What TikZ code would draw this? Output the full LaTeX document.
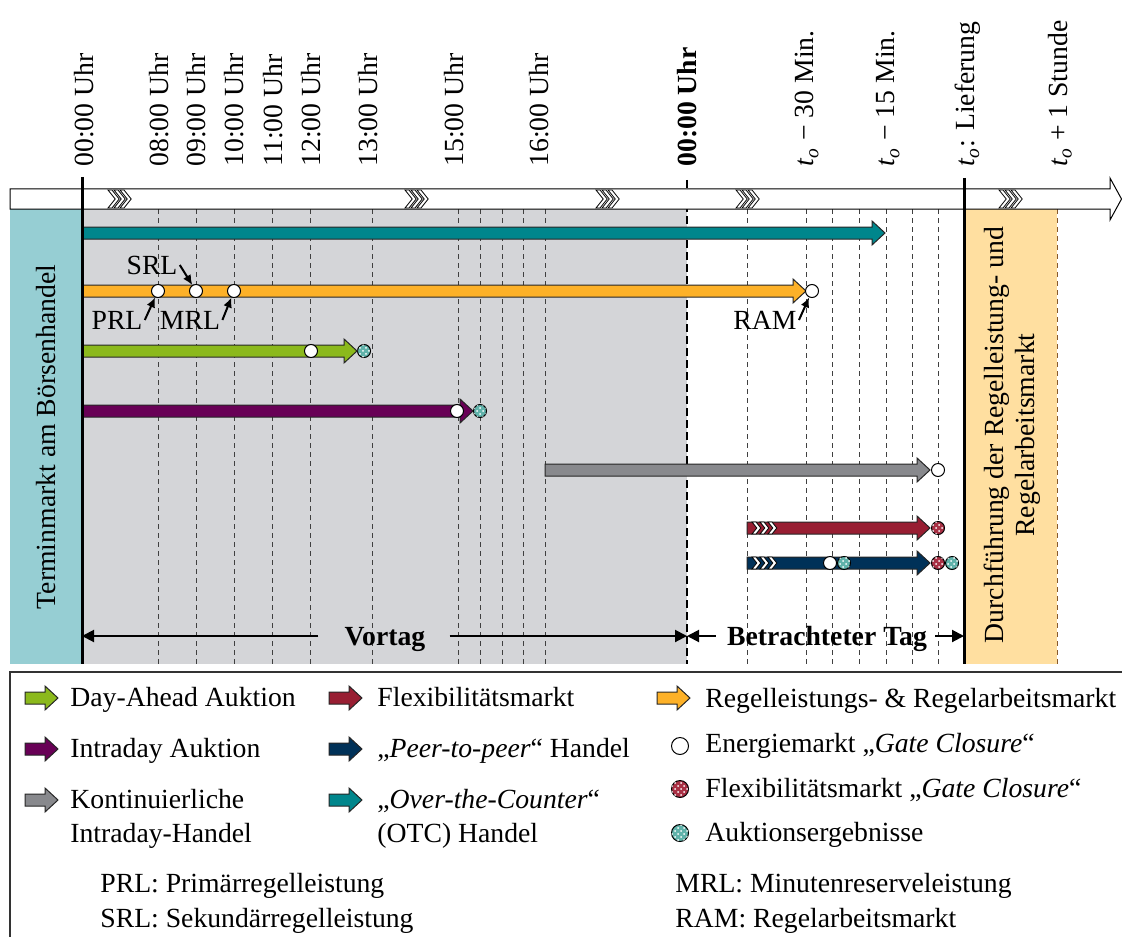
\documentclass[tikz,border=0pt]{standalone}
\usepackage{fontspec}
\setmainfont{Liberation Serif}
\usepackage{xcolor}
\usepackage{tikz}
\usetikzlibrary{arrows.meta,patterns}

\definecolor{termin}{RGB}{150,206,211}
\definecolor{vortag}{RGB}{212,213,216}
\definecolor{liefer}{RGB}{255,223,160}
\definecolor{otc}{RGB}{0,134,140}
\definecolor{regel}{RGB}{253,177,40}
\definecolor{dayahead}{RGB}{139,185,28}
\definecolor{intraday}{RGB}{104,0,86}
\definecolor{kont}{RGB}{136,137,141}
\definecolor{flex}{RGB}{152,30,50}
\definecolor{ptp}{RGB}{0,49,88}
\definecolor{flexdot}{RGB}{168,48,68}
\definecolor{aukdot}{RGB}{96,178,170}

\newcommand{\To}{\textit{t}\textsubscript{\textit{o}}}
\newcommand{\Mkt}[4]{%
  \filldraw[fill=#1,draw=black!85,line width=0.5pt]
    (#2,#4-6) -- (#3-13,#4-6) -- (#3-13,#4-12) -- (#3,#4)
    -- (#3-13,#4+12) -- (#3-13,#4+6) -- (#2,#4+6) -- cycle;}
\newcommand{\Chev}[4]{%
  \filldraw[fill=white,draw=black,line width=0.4pt]
    (#1,#2-#3) -- (#1+#4,#2-#3) -- (#1+#4+#3*0.8,#2) -- (#1+#4,#2+#3)
    -- (#1,#2+#3) -- (#1+#3*0.8,#2) -- cycle;}

\begin{document}
\begin{tikzpicture}[x=0.5pt,y=-0.5pt,
  font=\fontsize{13.85}{16.6}\selectfont,
  gridline/.style={black!75,line width=0.5pt,dash pattern=on 2.5pt off 2pt},
  gate/.style={circle,draw,fill=white,inner sep=0pt,minimum size=6.5pt,line width=0.5pt},
  flexgate/.style={gate,fill=flexdot,postaction={pattern=crosshatch dots,pattern color=white}},
  aukgate/.style={gate,fill=aukdot,postaction={pattern=crosshatch dots,pattern color=white}},
  lblarrow/.style={-{Latex[length=5pt,width=4.5pt]},line width=1pt},
  dayspan/.style={-{Triangle[length=6pt,width=6pt]},line width=1pt},
  toplabel/.style={rotate=90,anchor=west,inner sep=0pt},
  txt/.style={anchor=base west,inner sep=0pt}]
  \useasboundingbox (0,0) rectangle (1122,936);
  \fill[termin] (10,209) rectangle (82,664);
  \fill[vortag] (82,209) rectangle (687,664);
  \fill[liefer] (964,209) rectangle (1057,664);
  \foreach \x in {158,196,234,272,310,372,458,480,502,523,545,747,806,832,859,886,912,938}
    \draw[gridline] (\x,209) -- (\x,664);
  \draw[gridline,draw=brown!70!black] (1057,209) -- (1057,664);
  \draw[line width=1pt,dash pattern=on 4pt off 2pt] (687,180) -- (687,664);
  % time axis
  \filldraw[fill=white,draw=black,line width=0.5pt] (10,189) -- (1110,189) -- (1110,178)
    -- (1121.5,199) -- (1110,220) -- (1110,209) -- (10,209) -- cycle;
  \foreach \c in {108,405,596,736,999}
    \foreach \k in {0,6,12}
      \Chev{\c+\k}{199}{9}{4};
  \foreach \x/\t [count=\i] in {84/00:00,159/08:00,196/09:00,234/10:00,273/11:00,311/12:00,368/13:00,454/15:00,539/16:00}
    \node[toplabel] (h\i) at (\x,167) {\t\ Uhr};
  \node[toplabel] (h0) at (687,167) {\bfseries 00:00 Uhr};
  \node[toplabel] (m30) at (807,167) {\To\ − 30 Min.};
  \node[toplabel] (m15) at (888,167) {\To\ − 15 Min.};
  \node[toplabel] (t0) at (968,167) {\To: Lieferung};
  \node[toplabel] (p1h) at (1060,167) {\To\ + 1 Stunde};
  \node[rotate=90] (termin) at (46,437) {Terminmarkt am Börsenhandel};
  \node[rotate=90,align=center,font=\fontsize{13.85}{15.5}\selectfont] (durch) at (1012,435)
    {Durchführung der Regelleistung- und\\Regelarbeitsmarkt};
  % markets
  \Mkt{otc}{82}{885}{233}
  \Mkt{regel}{82}{806}{291}
  \Mkt{dayahead}{82}{357}{351}
  \Mkt{intraday}{82}{473}{411}
  \Mkt{kont}{545}{930}{470}
  \Mkt{flex}{747}{930}{528}
  \Mkt{ptp}{747}{930}{563}
  \foreach \y in {528,563}
    \foreach \c in {752,760,768}
      \Chev{\c}{\y}{6}{4};
  \draw[line width=1.5pt] (82,177) -- (82,664);
  \draw[line width=1.5pt] (964,178) -- (964,664);
  \node[gate] (gprl) at (158,291) {};
  \node[gate] (gsrl) at (196,291) {};
  \node[gate] (gmrl) at (234,291) {};
  \node[gate] (gram) at (812,291) {};
  \node[gate] (gda) at (311,351) {};
  \node[aukgate] (ada) at (364,351) {};
  \node[gate] (gid) at (457,411) {};
  \node[aukgate] (aid) at (480,411) {};
  \node[gate] (gkont) at (938,470) {};
  \node[flexgate] (fflex) at (938,528) {};
  \node[gate] (gptp) at (830,563) {};
  \node[aukgate] (aptp) at (844,563) {};
  \node[flexgate] (fptp) at (938,563) {};
  \node[aukgate] (aptpb) at (952,563) {};
  \node[inner sep=1pt] (lsrl) at (152,265) {SRL};
  \node[inner sep=1pt] (lprl) at (117,320) {PRL};
  \node[inner sep=1pt] (lmrl) at (190,320) {MRL};
  \node[inner sep=1pt] (lram) at (765,320) {RAM};
  \draw[lblarrow] (lsrl.east) -- (gsrl);
  \draw[lblarrow] (lprl.east) -- (gprl);
  \draw[lblarrow] (lmrl.east) -- (gmrl);
  \draw[lblarrow] (lram.east) -- (gram);
  % days
  \coordinate (d0) at (82,636);
  \coordinate (d1) at (687,636);
  \coordinate (d2) at (964,636);
  \node[inner sep=0pt,text depth=0pt] (vt) at (385,636) {\bfseries Vortag};
  \node[inner sep=0pt,text depth=0pt] (bt) at (827,636) {\bfseries Betrachteter Tag};
  \draw[dayspan] ([xshift=-13pt]vt.west) -- (d0);
  \draw[dayspan] ([xshift=12pt]vt.east) -- (d1);
  \draw[dayspan] ([xshift=-5.5pt]bt.west) -- (d1);
  \draw[dayspan] ([xshift=4pt]bt.east) -- (d2);
  % legend
  \draw[black!80,line width=0.75pt] (10,672) rectangle (1140,950);
  \Mkt{dayahead}{25}{58}{698}
  \Mkt{intraday}{25}{58}{749}
  \Mkt{kont}{25}{58}{800}
  \Mkt{flex}{329}{362}{698}
  \Mkt{ptp}{329}{362}{749}
  \Mkt{otc}{329}{362}{800}
  \Mkt{regel}{657}{690}{698}
  \node[gate,minimum size=8.5pt] (lgate) at (680,746) {};
  \node[flexgate,minimum size=8.5pt] (lflex) at (680,789) {};
  \node[aukgate,minimum size=8.5pt] (lauk) at (680,833) {};
  \node[txt] (tda) at (70,706) {Day-Ahead Auktion};
  \node[txt] (tid) at (70,757) {Intraday Auktion};
  \node[txt] (tko) at (70,808) {Kontinuierliche};
  \node[txt] (tkob) at (70,842) {Intraday-Handel};
  \node[txt] (tfl) at (377,706) {Flexibilitätsmarkt};
  \node[txt] (tpp) at (377,757) {„\textit{Peer-to-peer}“ Handel};
  \node[txt] (tot) at (377,808) {„\textit{Over-the-Counter}“};
  \node[txt] (totb) at (377,842) {(OTC) Handel};
  \node[txt] (trg) at (705,707) {Regelleistungs- \& Regelarbeitsmarkt};
  \node[txt] (tgc) at (705,752) {Energiemarkt „\textit{Gate Closure}“};
  \node[txt] (tfg) at (705,797) {Flexibilitätsmarkt „\textit{Gate Closure}“};
  \node[txt] (tau) at (705,841) {Auktionsergebnisse};
  \node[txt] (tprl) at (100,892) {PRL: Primärregelleistung};
  \node[txt] (tsrl) at (100,927) {SRL: Sekundärregelleistung};
  \node[txt] (tmrl) at (675,892) {MRL: Minutenreserveleistung};
  \node[txt] (tram) at (675,927) {RAM: Regelarbeitsmarkt};
\end{tikzpicture}
\end{document}
